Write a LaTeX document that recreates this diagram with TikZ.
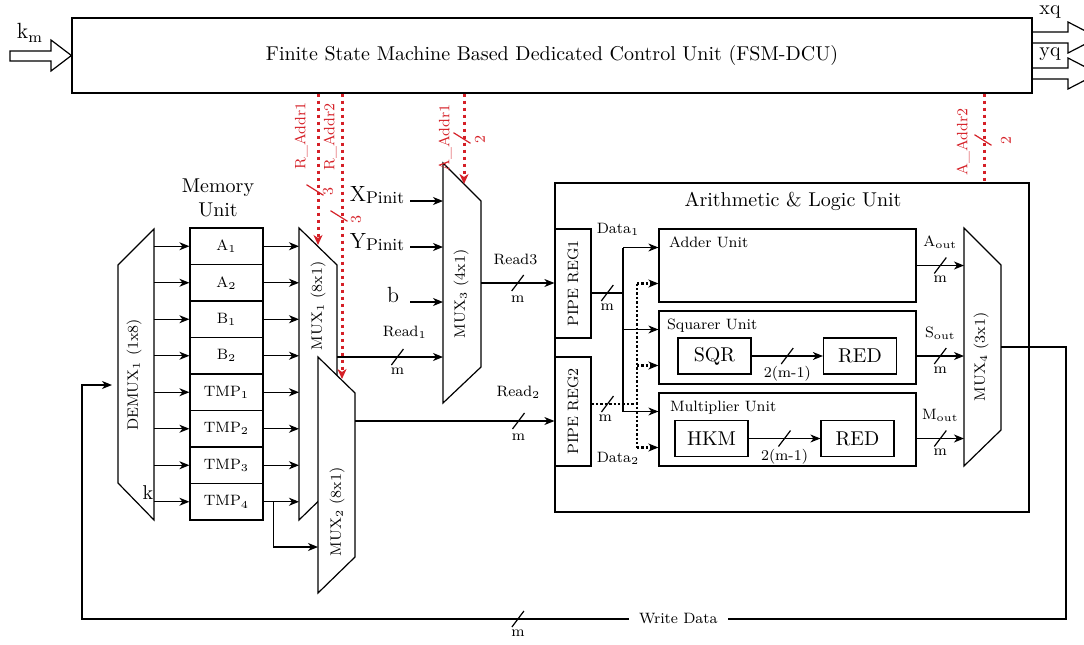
\documentclass[tikz,border=0pt]{standalone}
\usepackage{tikz}
\usetikzlibrary{arrows.meta, calc, positioning}
\definecolor{addrred}{RGB}{213,32,39}

\begin{document}
\begin{tikzpicture}[x=0.5pt, y=-0.5pt, line width=0.6pt,
  every node/.style={font=\fontsize{7.5}{9}\selectfont, inner sep=1pt},
  big/.style={font=\fontsize{10}{12}\selectfont},
  box/.style={draw, inner sep=0pt},
  reg/.style={box, minimum width=36.5pt, minimum height=18.25pt},
  unit/.style={box, minimum width=128.5pt, minimum height=36.5pt},
  blk/.style={box, big, minimum width=36.5pt, minimum height=18pt},
  mux/.style={draw, fill=white},
  arr/.style={-{Stealth[length=5pt, width=4pt, inset=1.5pt]}},
  dline/.style={densely dotted, line width=1.2pt},
  addrline/.style={draw=addrred, dotted, line width=1.5pt},
  addr/.style={addrline, -{Stealth[length=5pt, width=4.5pt, inset=1.5pt]}},
  slashmark/.style={draw, solid, line width=0.6pt, inner sep=0pt, minimum width=10pt, minimum height=0pt},
  sl/.style={slashmark, rotate=53},
  rsl/.style={slashmark, draw=addrred, rotate=-32},
  vlbl/.style={rotate=90},
  redlbl/.style={rotate=90, text=addrred}]
  \useasboundingbox (0,0) rectangle (1084,644);

  % control unit
  \node[box, big, minimum width=480pt, minimum height=37.5pt] (fsm) at (552,55.5)
    {Finite State Machine Based Dedicated Control Unit (FSM-DCU)};
  \draw (10,51) -- (51,51) -- (51,40) -- (fsm.west) -- (51,71) -- (51,61) -- (10,61) -- cycle;
  \node[font=\fontsize{11}{12}\selectfont] (km) at (30,33) {k\textsubscript{m}};
  \draw (1032,32) -- (1068,32) -- (1068,22) -- (1098,37.5) -- (1068,53) -- (1068,43) -- (1032,43);
  \draw (1032,68) -- (1068,68) -- (1068,58) -- (1098,73.5) -- (1068,89) -- (1068,79) -- (1032,79);
  \node[big] (xq) at (1050,12) {xq};
  \node[big] (yq) at (1050,54) {yq};

  % memory unit
  \node[big, align=center] (memt) at (218,198) {Memory\\Unit};
  \foreach \n/\t [count=\i] in {A1/A\textsubscript{1}, A2/A\textsubscript{2}, B1/B\textsubscript{1}, B2/B\textsubscript{2},
      T1/TMP\textsubscript{1}, T2/TMP\textsubscript{2}, T3/TMP\textsubscript{3}, T4/TMP\textsubscript{4}}
    \node[reg] (\n) at (226.5,209.75+36.5*\i) {\t};

  % demux and multiplexers
  \draw[mux] (118,265) -- (154,229) -- (154,520) -- (118,483) -- cycle;
  \node[vlbl] (dmx) at (134,375) {DEMUX\textsubscript{1} (1x8)};
  \draw[mux] (299,228) -- (337,265) -- (337,483) -- (299,520) -- cycle;
  \node[vlbl] (mux1) at (318,306) {MUX\textsubscript{1} (8x1)};
  \draw[mux] (318,357) -- (355,393) -- (355,557) -- (318,593) -- cycle;
  \node[vlbl] (mux2) at (337,512) {MUX\textsubscript{2} (8x1)};
  \draw[mux] (443,163) -- (481,201) -- (481,367) -- (443,403) -- cycle;
  \node[vlbl] (mux3) at (461,294) {MUX\textsubscript{3} (4x1)};
  \coordinate (dmR) at (154,0);
  \coordinate (m1L) at (299,0);
  \coordinate (m2in) at (318,547);
  \coordinate (m3L) at (443,0);
  \foreach \n in {A1,A2,B1,B2,T1,T2,T3,T4} {
    \draw[arr] (\n.west -| dmR) -- (\n.west);
    \draw[arr] (\n.east) -- (\n.east -| m1L);
  }
  \node[big] (k) at (148,493) {k};
  \draw[arr] ($(T4.east)+(10,0)$) |- (m2in);

  % address lines
  \coordinate (ra1) at (318,245);
  \coordinate (ra2) at (342,379);
  \coordinate (aa1) at (464,184);
  \coordinate (aa2) at (984,0);
  \draw[addr] (ra1 |- fsm.south) -- (ra1);
  \draw[addr] (ra2 |- fsm.south) -- (ra2);
  \draw[addr] (aa1 |- fsm.south) -- (aa1);
  \node[rsl] (rs1) at (315,190) {};
  \node[rsl] (rs2) at (339,216) {};
  \node[rsl] (as1) at (462,138) {};
  \node[redlbl] (ra1t) at (301,136) {R\_Addr1};
  \node[redlbl] (ra2t) at (330,137) {R\_Addr2};
  \node[redlbl] (aa1t) at (445,138) {A\_Addr1};
  \node[redlbl] (rn1) at (328,192) {3};
  \node[redlbl] (rn2) at (356,220) {3};
  \node[redlbl] (an1) at (480,140) {2};

  % mux3 inputs
  \coordinate (xpin) at (410,201);
  \coordinate (ypin) at (410,247);
  \coordinate (bin) at (410,302);
  \node (xp) at (377,195) {\fontsize{11}{12}\selectfont X\raisebox{-1.2pt}{\fontsize{8.5}{10}\selectfont Pinit}};
  \node (yp) at (377,242) {\fontsize{11}{12}\selectfont Y\raisebox{-1.2pt}{\fontsize{8.5}{10}\selectfont Pinit}};
  \node[font=\fontsize{11}{12}\selectfont] (b) at (393,295) {b};
  \draw[arr] (xpin) -- (xpin -| m3L);
  \draw[arr] (ypin) -- (ypin -| m3L);
  \draw[arr] (bin) -- (bin -| m3L);

  % arithmetic and logic unit
  \node[box, minimum width=237pt, minimum height=164.5pt] (alu) at (792,347.5) {};
  \node[big] (alut) at (793,201) {Arithmetic \& Logic Unit};
  \draw[addrline] (aa2 |- fsm.south) -- (aa2 |- alu.north);
  \node[rsl] (as2) at (983,140) {};
  \node[redlbl] (aa2t) at (963,142) {A\_Addr2};
  \node[redlbl] (an2) at (1006,141) {2};
  \node[box, minimum width=18pt, minimum height=54.5pt] (pr1) at (573,283.5) {};
  \node[vlbl] (pr1t) at (pr1) {PIPE REG1};
  \node[box, minimum width=18pt, minimum height=54.5pt] (pr2) at (573,411.5) {};
  \node[vlbl] (pr2t) at (pr2) {PIPE REG2};
  \node[unit] (add) at (787.5,265.5) {};
  \node[unit] (sq) at (787.5,347.5) {};
  \node[unit] (mul) at (787.5,429.5) {};
  \node[anchor=north west] (addt) at ([shift={(8,6)}]add.north west) {Adder Unit};
  \node[anchor=north west] (sqt) at ([shift={(6,6)}]sq.north west) {Squarer Unit};
  \node[anchor=north west] (mult) at ([shift={(9,6)}]mul.north west) {Multiplier Unit};
  \node[blk] (sqr) at (714.5,356) {SQR};
  \node[blk] (red1) at (860,356) {RED};
  \node[blk] (hkm) at (711.5,438.5) {HKM};
  \node[blk] (red2) at (857.5,438.5) {RED};
  \draw[arr] (sqr) -- node[sl] (s5) {} node[below=4pt] (l5) {2(m-1)} (red1);
  \draw[arr] (hkm) -- node[sl] (s6) {} node[below=4pt] (l6) {2(m-1)} (red2);

  % data paths
  \coordinate (d1) at (623,293);
  \coordinate (d2) at (637,404);
  \node (d1t) at (618,229) {Data\textsubscript{1}};
  \node (d2t) at (618,458) {Data\textsubscript{2}};
  \draw (pr1.east |- d1) -- node[sl] (s3) {} node[below=4pt] (l3) {m} (d1);
  \draw ($(add.west -| d1)+(0,-18)$) -- ($(mul.west -| d1)+(0,-18)$);
  \foreach \u in {add,sq,mul}
    \draw[arr] ($(\u.west -| d1)+(0,-18)$) -- ($(\u.west)+(0,-18)$);
  \draw[dline] (pr2.east |- d2) -- node[pos=.35, sl] (s4) {} node[pos=.3, below=4pt] (l4) {m} (d2);
  \draw[dline] ($(add.west -| d2)+(0,18)$) -- ($(mul.west -| d2)+(0,18)$);
  \foreach \u in {add,sq,mul}
    \draw[dline, arr] ($(\u.west -| d2)+(0,18)$) -- ($(\u.west)+(0,18)$);

  % read buses
  \coordinate (m1out) at (337,357);
  \coordinate (m2out) at (355,421);
  \coordinate (m3out) at (481,283);
  \draw[arr] (m1out) -- node[pos=.57, sl] (s1) {} node[pos=.57, below=4pt] (l1) {m}
    node[pos=.64, above=8pt] (r1t) {Read\textsubscript{1}} (m1out -| m3L);
  \draw[arr] (m2out) -- node[pos=.82, sl] (s2) {} node[pos=.82, below=5pt] (l2) {m}
    node[pos=.82, above=10pt] (r2t) {Read\textsubscript{2}} (m2out -| pr2.west);
  \draw[arr] (m3out) -- node[pos=.5, sl] (s7) {} node[pos=.5, below=5pt] (l7) {m}
    node[pos=.47, above=8pt] (r3t) {Read3} (m3out -| pr1.west);

  % mux4 and write back
  \draw[mux] (964,228) -- (1001,265) -- (1001,430) -- (964,466) -- cycle;
  \node[vlbl] (mux4) at (981,357) {MUX\textsubscript{4} (3x1)};
  \coordinate (m4L) at (964,0);
  \draw[arr] (add.east) -- node[sl] (s8) {} node[below=4pt] (l8) {m}
    node[above=7pt] (aot) {A\textsubscript{out}} (add.east -| m4L);
  \draw[arr] (red1.east -| sq.east) -- node[sl] (s9) {} node[below=4pt] (l9) {m}
    node[above=7pt] (sot) {S\textsubscript{out}} (red1.east -| m4L);
  \draw[arr] (red2.east -| mul.east) -- node[sl] (s10) {} node[below=4pt] (l10) {m}
    node[above=7pt] (mot) {M\textsubscript{out}} (red2.east -| m4L);
  \coordinate (m4out) at (1001,347);
  \coordinate (fbR) at (1066,619);
  \coordinate (fbL) at (82,619);
  \coordinate (dmin) at (112,385);
  \draw[arr] (m4out) -| (fbR) -- node[pos=.557, sl] (s11) {} node[pos=.557, below=4pt] (l11) {m}
    node[pos=.394, fill=white, inner xsep=5pt] (wd) {Write Data} (fbL) |- (dmin);
\end{tikzpicture}
\end{document}
